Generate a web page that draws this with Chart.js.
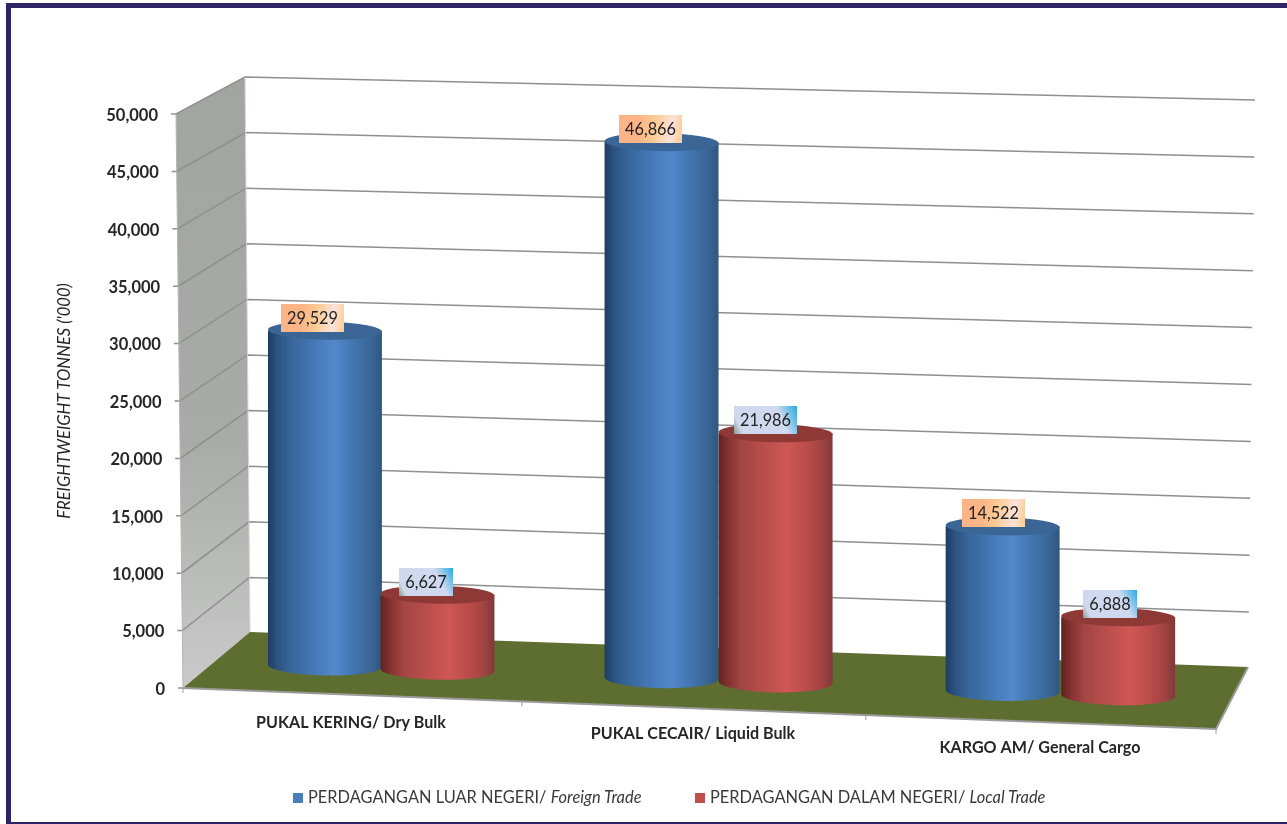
<!DOCTYPE html>
<html>
<head>
<meta charset="utf-8">
<title>Freightweight tonnes</title>
<script src="https://cdn.jsdelivr.net/npm/chart.js@4"></script>
<style>
  html, body { margin: 0; padding: 0; background: #fff; overflow: hidden; }
  #frame { position: fixed; left: 6px; top: 3px; right: -10px; height: 814px; border: solid #2b2568; border-width: 5px 0 2px 5px; }
  #chart { position: absolute; left: 0; top: 0; }
  #legend { position: absolute; top: 787px; left: 0; font: 16.4px Lato, sans-serif; color: #3a3a3a; }
  #legend span.item { position: absolute; white-space: nowrap; line-height: 20px; }
  #legend i.box { position: absolute; top: 6px; width: 10px; height: 10px; }
</style>
</head>
<body>
<div id="frame"></div>
<canvas id="chart" width="1287" height="824"></canvas>
<div id="legend"></div>
<script>
// Chart values
const categories = ['PUKAL KERING/ Dry Bulk', 'PUKAL CECAIR/ Liquid Bulk', 'KARGO AM/ General Cargo'];
const foreignTrade = [29529, 46866, 14522];
const localTrade = [6627, 21986, 6888];
const seriesNames = ['PERDAGANGAN LUAR NEGERI/ ', 'PERDAGANGAN DALAM NEGERI/ '];
const seriesNamesEn = ['Foreign Trade', 'Local Trade'];
const yTitle = "FREIGHTWEIGHT TONNES ('000)";
const seriesColors = ['#4a7ebb', '#c0504d'];

// Corners of the 3D box as it sits on the page
const box = {
  frontTop: [176, 114], frontBot: [183, 688],
  backTop: [245, 77], backBot: [250, 632],
  rightTop: [1255, 100], rightBot: [1248, 667],
  floorFront: [1216, 729]
};
const lerp = (a, b, t) => [a[0] + (b[0] - a[0]) * t, a[1] + (b[1] - a[1]) * t];
const line = (ctx, pts) => {
  ctx.beginPath();
  pts.forEach((p, i) => i ? ctx.lineTo(p[0], p[1]) : ctx.moveTo(p[0], p[1]));
};

// Floor height under a bar: the bars stand half way back on the floor
function floorY(x) {
  const l = lerp(box.frontBot, box.backBot, 0.5);
  const r = lerp(box.floorFront, box.rightBot, 0.5);
  return l[1] + (r[1] - l[1]) * (x - l[0]) / (r[0] - l[0]) + 1.5;
}

// Slight perspective bend of the category axis
const bendX = x => x + 1.95e-5 * (x - 720) * (x - 720) + 0.00076 * (x - 720) - 1.5;

// Top of a cylinder: scale pixels shrink a little mid plane and stretch near the top of the box
function cylinderTop(bar, cx) {
  const h = bar.base - bar.y;
  return floorY(cx) - h * 0.987 - 5 * Math.pow(h / 538, 6);
}

function drawWalls(chart) {
  const ctx = chart.ctx;
  const yScale = chart.scales.y;
  const frac = v => v / yScale.max;

  // left wall
  const wallFill = ctx.createLinearGradient(0, box.backTop[1], 0, box.frontBot[1]);
  wallFill.addColorStop(0, '#a2a4a2');
  wallFill.addColorStop(0.6, '#a9aba9');
  wallFill.addColorStop(1, '#c9cac9');
  line(ctx, [box.frontBot, box.frontTop, box.backTop, box.backBot]);
  ctx.closePath();
  ctx.fillStyle = wallFill;
  ctx.fill();

  // gridlines run along the left wall and the back wall, zero sits just under the floor edge
  ctx.strokeStyle = '#8f8f8f';
  ctx.lineWidth = 1.5;
  const backZero = [box.backBot[0], box.backBot[1] + 1];
  const rightZero = [box.rightBot[0], box.rightBot[1] + 2];
  yScale.ticks.forEach(t => {
    const f = frac(t.value);
    const a = lerp(box.frontBot, box.frontTop, f);
    const b = lerp(backZero, box.backTop, f);
    const c = lerp(rightZero, box.rightTop, f);
    if (t.value > 0) {
      line(ctx, [[a[0] - 5, a[1]], a, b, c]);
    } else {
      line(ctx, [[a[0] - 5, a[1]], a]);
    }
    ctx.stroke();
  });

  // floor
  line(ctx, [box.frontBot, box.backBot, box.rightBot, box.floorFront]);
  ctx.closePath();
  ctx.fillStyle = '#5e6e30';
  ctx.fill();

  // wall edges
  ctx.strokeStyle = '#b4b4b4';
  ctx.lineWidth = 1;
  line(ctx, [box.frontBot, box.frontTop]);
  ctx.stroke();
  ctx.strokeStyle = '#d6d6d6';
  line(ctx, [box.backBot, box.backTop]);
  ctx.stroke();

  // front and right edge of the floor with the category ticks
  ctx.strokeStyle = '#9a9a9a';
  ctx.lineWidth = 2;
  line(ctx, [box.frontBot, box.floorFront, box.rightBot]);
  ctx.stroke();
  ctx.lineWidth = 1;
  [0, 0.328, 0.661, 1].forEach(t => {
    const p = lerp(box.frontBot, box.floorFront, t);
    line(ctx, [p, [p[0], p[1] + 5]]);
    ctx.stroke();
  });
}

const sideStops = [
  [[0, '#1f3d62'], [0.08, '#2c527f'], [0.2, '#38659a'], [0.4, '#4478b5'], [0.58, '#5488cc'], [0.75, '#4275b0'], [0.9, '#3a6696'], [1, '#2f567f']],
  [[0, '#5e2322'], [0.08, '#82312f'], [0.2, '#a34544'], [0.4, '#b94e4c'], [0.6, '#cf5754'], [0.78, '#b94c4a'], [0.9, '#a34442'], [1, '#80393a']]
];
const topColors = ['#3a6594', '#8e3936'];
const tilt = 0.02;

// Draws one bar element as a cylinder
function drawCylinder(ctx, bar, ds) {
  const cx = bendX(bar.x);
  const left = cx - bar.width / 2;
  const right = cx + bar.width / 2;
  const rx = bar.width / 2;
  const bottom = floorY(cx);
  const top = cylinderTop(bar, cx);

  const side = ctx.createLinearGradient(left, 0, right, 0);
  sideStops[ds].forEach(s => side.addColorStop(s[0], s[1]));
  ctx.beginPath();
  ctx.moveTo(left, top);
  ctx.lineTo(left, bottom);
  ctx.ellipse(cx, bottom, rx, 10, tilt, Math.PI, 0, true);
  ctx.lineTo(right, top);
  ctx.closePath();
  ctx.fillStyle = side;
  ctx.fill();

  ctx.beginPath();
  ctx.ellipse(cx, top, rx, 9, tilt, 0, Math.PI * 2);
  ctx.fillStyle = topColors[ds];
  ctx.fill();
}

// The value tag that sits on the top of a cylinder
function drawTag(ctx, bar, ds, value) {
  const text = value.toLocaleString('en-US');
  const w = text.length > 5 ? 63 : 54;
  const h = 28;
  const barX = bendX(bar.x);
  const cx = barX - 12.5 + (barX - 325) * 0.0057;
  const x = Math.round(cx - w / 2);
  const y = Math.round(cylinderTop(bar, barX) - 27);

  let fill;
  if (ds === 0) {
    fill = ctx.createLinearGradient(x, y, x + w, y + h * 0.3);
    fill.addColorStop(0, '#fdb389');
    fill.addColorStop(0.35, '#fbb585');
    fill.addColorStop(0.6, '#fdcd98');
    fill.addColorStop(0.85, '#fde2dc');
    fill.addColorStop(1, '#fdd09a');
  } else {
    fill = ctx.createLinearGradient(x, y + h, x + w, y);
    fill.addColorStop(0, '#7f9a88');
    fill.addColorStop(0.12, '#d0d8ee');
    fill.addColorStop(0.72, '#cfd9ef');
    fill.addColorStop(1, '#25aae2');
  }
  ctx.fillStyle = fill;
  ctx.fillRect(x, y, w, h);

  ctx.fillStyle = '#222';
  ctx.font = '16.3px Lato, sans-serif';
  ctx.textAlign = 'center';
  ctx.textBaseline = 'middle';
  ctx.fillText(text, x + w / 2, y + h / 2 + 1);
}

const cylinderPlugin = {
  id: 'cylinders',
  // Nudges the library's tick labels so they follow the slanted axis and floor
  afterLayout(chart) {
    chart.scales.y.getLabelItems().forEach(item => {
      const y = item.options.translation[1];
      const f = (box.frontBot[1] - y) / (box.frontBot[1] - box.frontTop[1]);
      item.options.translation[0] = lerp(box.frontBot, box.frontTop, f)[0] - 18;
      item.options.translation[1] = y + 1.5;
    });
    const labelY = [713, 724, 738];
    const labelX = [351, 693, 1040];
    chart.scales.x.getLabelItems().forEach((item, i) => {
      item.options.translation[0] = labelX[i];
      item.options.translation[1] = labelY[i];
      item.options.textBaseline = 'middle';
    });
  },
  beforeDatasetsDraw(chart) {
    const ctx = chart.ctx;
    ctx.save();
    drawWalls(chart);
    chart.data.datasets.forEach((d, ds) => {
      chart.getDatasetMeta(ds).data.forEach(bar => drawCylinder(ctx, bar, ds));
    });
    chart.data.datasets.forEach((d, ds) => {
      chart.getDatasetMeta(ds).data.forEach((bar, i) => drawTag(ctx, bar, ds, d.data[i]));
    });
    ctx.restore();
    return false; // the cylinders replace the flat bars
  }
};

new Chart(document.getElementById('chart').getContext('2d'), {
  type: 'bar',
  data: {
    labels: categories,
    datasets: [
      { label: seriesNames[0] + seriesNamesEn[0], data: foreignTrade, backgroundColor: seriesColors[0], categoryPercentage: 0.6716, barPercentage: 1 },
      { label: seriesNames[1] + seriesNamesEn[1], data: localTrade, backgroundColor: seriesColors[1], categoryPercentage: 0.6716, barPercentage: 1 }
    ]
  },
  plugins: [cylinderPlugin],
  options: {
    responsive: false,
    animation: false,
    layout: { padding: { left: 51, right: 58, top: 114, bottom: 0 } },
    plugins: { legend: { display: false }, tooltip: { enabled: false } },
    scales: {
      x: {
        grid: { display: false },
        border: { display: false },
        afterFit(scale) { scale.height = 136; },
        ticks: {
          autoSkip: false, maxRotation: 0, minRotation: 0,
          color: '#262626',
          font: { family: 'Lato, sans-serif', size: 16.1, weight: 'bold' }
        }
      },
      y: {
        min: 0,
        max: 50000,
        grid: { display: false },
        border: { display: false },
        afterFit(scale) { scale.width = 160; },
        ticks: {
          stepSize: 5000,
          color: '#262626',
          font: { family: 'Lato, sans-serif', size: 16.5, weight: 'bold' },
          callback: v => v.toLocaleString('en-US')
        },
        title: {
          display: true,
          text: yTitle,
          color: '#262626',
          padding: { top: 4, bottom: 4 },
          font: { family: 'Lato, sans-serif', size: 16.6, style: 'italic', weight: 'normal' }
        }
      }
    }
  }
});

// Legend is HTML because the names mix upright and italic text
const legend = document.getElementById('legend');
const legendX = [293, 695];
seriesNames.forEach((name, i) => {
  const swatch = document.createElement('i');
  swatch.className = 'box';
  swatch.style.left = legendX[i] + 'px';
  swatch.style.background = seriesColors[i];
  legend.appendChild(swatch);
  const item = document.createElement('span');
  item.className = 'item';
  item.style.left = (legendX[i] + 15) + 'px';
  item.innerHTML = name + '<em>' + seriesNamesEn[i] + '</em>';
  legend.appendChild(item);
});
</script>
</body>
</html>
